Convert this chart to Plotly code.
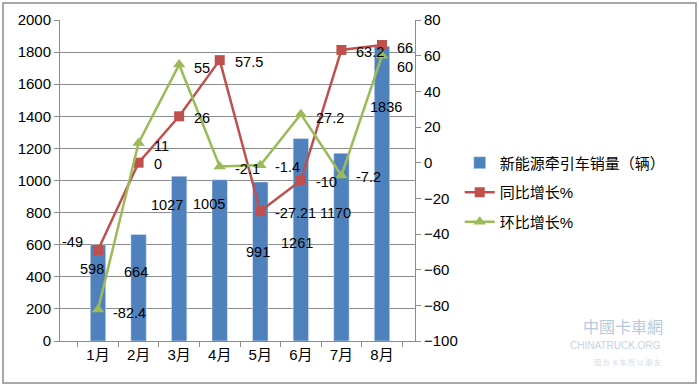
import plotly.graph_objects as go

months = ["1月", "2月", "3月", "4月", "5月", "6月", "7月", "8月"]
sales = [598, 664, 1027, 1005, 991, 1261, 1170, 1836]
yoy = [-49, 0, 26, 57.5, -27.21, -10, 63.2, 66]
mom = [-82.4, 11, 55, -2.1, -1.4, 27.2, -7.2, 60]
yoy_text = ["-49", "0", "26", "57.5", "-27.21", "-10", "63.2", "66"]
mom_text = ["-82.4", "11", "55", "-2.1", "-1.4", "27.2", "-7.2", "60"]

name_bar = "新能源牵引车销量（辆）"
name_yoy = "同比增长%"
name_mom = "环比增长%"

FONT = "Liberation Sans, Arial, Noto Sans CJK SC, sans-serif"
BLUE, RED, GREEN = "#4F81BD", "#C0504D", "#9BBB59"
GRID = "#8C8C8C"

# label offsets (pixels), styling only
bar_dx = [-6, -3, -12, -11, -2, -4, -6, 4]
bar_dy = [-24, -38, -29, -24, -70, -104, -60, -61]
yoy_dy = [8, -1, -2, -2, -2, -1, -2, -3]
mom_dy = [-3, -3, -3, -3, -2, -4, -1, -11]

fig = go.Figure()
fig.add_trace(go.Bar(x=months, y=sales, name=name_bar, marker_color=BLUE,
                     legendgroup="a", yaxis="y"))
fig.add_trace(go.Scatter(x=months, y=yoy, name=name_yoy, mode="lines+markers",
                         line=dict(color=RED, width=2.5),
                         marker=dict(symbol="square", size=10, color=RED),
                         legendgroup="b", yaxis="y2"))
fig.add_trace(go.Scatter(x=months, y=mom, name=name_mom, mode="lines+markers",
                         line=dict(color=GREEN, width=2.5),
                         marker=dict(symbol="triangle-up", size=11, color=GREEN),
                         legendgroup="c", yaxis="y2"))

ann = []
lab_font = dict(family=FONT, size=14.5, color="#000000")
for i, m in enumerate(months):
    ann.append(dict(x=m, y=sales[i], xref="x", yref="y", text=str(sales[i]),
                    showarrow=False, xanchor="center", yanchor="middle",
                    xshift=bar_dx[i], yshift=bar_dy[i], font=lab_font))
    if i == 0:
        ann.append(dict(x=m, y=yoy[i], xref="x", yref="y2", text=yoy_text[i],
                        showarrow=False, xanchor="right", yanchor="middle",
                        xshift=-13, yshift=yoy_dy[i], font=lab_font))
    else:
        ann.append(dict(x=m, y=yoy[i], xref="x", yref="y2", text=yoy_text[i],
                        showarrow=False, xanchor="left", yanchor="middle",
                        xshift=13, yshift=yoy_dy[i], font=lab_font))
    ann.append(dict(x=m, y=mom[i], xref="x", yref="y2", text=mom_text[i],
                    showarrow=False, xanchor="left", yanchor="middle",
                    xshift=13, yshift=mom_dy[i], font=lab_font))

# faint watermark
ann.append(dict(x=(665 - 60) / 355, y=(341 - 326) / 321, xref="paper", yref="paper",
                text="中國卡車網", showarrow=False, xanchor="right", yanchor="middle",
                font=dict(family="Noto Sans CJK SC", size=16, color="#B8C9DC")))
ann.append(dict(x=(663 - 60) / 355, y=(341 - 346) / 321, xref="paper", yref="paper",
                text="CHINATRUCK.ORG", showarrow=False, xanchor="right", yanchor="middle",
                font=dict(family=FONT, size=10, color="#C5D3E3")))
ann.append(dict(x=(663 - 60) / 355, y=(341 - 362) / 321, xref="paper", yref="paper",
                text="因 为 卡 车 所 以 朋 友", showarrow=False, xanchor="right", yanchor="middle",
                font=dict(family="Noto Sans CJK SC", size=7, color="#D0DBE8")))

fig.update_layout(
    width=699, height=388,
    margin=dict(l=60, r=284, t=20, b=47),
    paper_bgcolor="white", plot_bgcolor="white",
    font=dict(family=FONT, size=15, color="#000000"),
    bargap=0.62,
    showlegend=True,
    legend=dict(x=1.126, y=0.606, xanchor="left", yanchor="top",
                traceorder="grouped", tracegroupgap=7,
                font=dict(family=FONT, size=15), bgcolor="rgba(0,0,0,0)"),
    xaxis=dict(showline=True, linecolor=GRID, linewidth=1, ticks="outside",
               tickson="boundaries", ticklen=5, tickcolor=GRID,
               tickfont=dict(size=15), showgrid=False),
    yaxis=dict(range=[0, 2000], dtick=200, showgrid=True, gridcolor=GRID,
               gridwidth=1, showline=True, linecolor=GRID, ticks="outside",
               ticklen=5, tickcolor=GRID, zeroline=False, tickfont=dict(size=15)),
    yaxis2=dict(range=[-100, 80], dtick=20, overlaying="y", side="right",
                showgrid=False, showline=True, linecolor=GRID, ticks="outside",
                ticklen=5, tickcolor=GRID, zeroline=False, tickfont=dict(size=15)),
    annotations=ann,
    shapes=[dict(type="rect", xref="paper", yref="paper",
                 x0=(3 - 60) / 355, x1=(696 - 60) / 355,
                 y0=(341 - 383) / 321, y1=(341 - 3) / 321,
                 line=dict(color="#8C8C8C", width=1.5), fillcolor="rgba(0,0,0,0)")],
)

fig.write_html("out.html", config={"displayModeBar": False},
               post_script="document.body.style.margin='0';")
